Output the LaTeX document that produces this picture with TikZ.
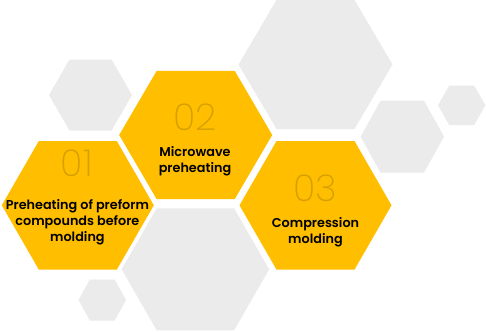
\documentclass[tikz,border=0pt]{standalone}
\usepackage{fontspec}
\setmainfont{Poppins}
\newfontfamily\numfont{Poppins ExtraLight}
\newfontfamily\txtfont{Poppins SemiBold}
\definecolor{hexyellow}{RGB}{255,190,0}
\definecolor{hexgray}{RGB}{235,235,235}
\definecolor{numcol}{RGB}{214,160,0}
\newcommand\hexag[6]{\fill[#1] (#2-#4,#3) -- (#2-#5,#3-#6) -- (#2+#5,#3-#6) -- (#2+#4,#3) -- (#2+#5,#3+#6) -- (#2-#5,#3+#6) -- cycle;}
\tikzset{
  numlabel/.style={font=\numfont\fontsize{37}{40}\selectfont, text=numcol, inner sep=0pt},
  steplabel/.style={font=\txtfont\fontsize{12.8}{16}\selectfont, text=black, align=center, inner sep=0pt}
}
\begin{document}
\begin{tikzpicture}[x=1pt,y=-1pt]
\useasboundingbox (0,0) rectangle (486,332);
\fill[white] (0,0) rectangle (486,332);
% gray hexagons
\hexag{hexgray}{90.5}{95}{41.5}{21}{35.5}
\hexag{hexgray}{315.5}{64.5}{77}{39}{64.5}
\hexag{hexgray}{402.3}{136.7}{41.7}{21.7}{36}
\hexag{hexgray}{461.7}{105.3}{23.7}{12.5}{19.7}
\hexag{hexgray}{102.3}{300}{23.7}{12.5}{20.5}
\hexag{hexgray}{195.4}{269.3}{73.7}{38.7}{61}
% yellow hexagons
\hexag{hexyellow}{195.7}{135}{76.5}{39}{64.2}
\hexag{hexyellow}{77.8}{205.3}{76}{39}{64.3}
\hexag{hexyellow}{315.5}{205.3}{76}{39}{64.3}
% numbers
\node[numlabel] (n1) at (76.7,163.3) {01};
\node[numlabel] (n2) at (195,117) {02};
\node[numlabel] (n3) at (315.5,188.5) {03};
% texts
\node[steplabel] (t1) at (77.4,221.8) {Preheating of preform\\compounds before\\molding};
\node[steplabel] (t2) at (195,161.7) {Microwave\\preheating};
\node[steplabel] (t3) at (315.5,232.5) {Compression\\molding};
\end{tikzpicture}
\end{document}
